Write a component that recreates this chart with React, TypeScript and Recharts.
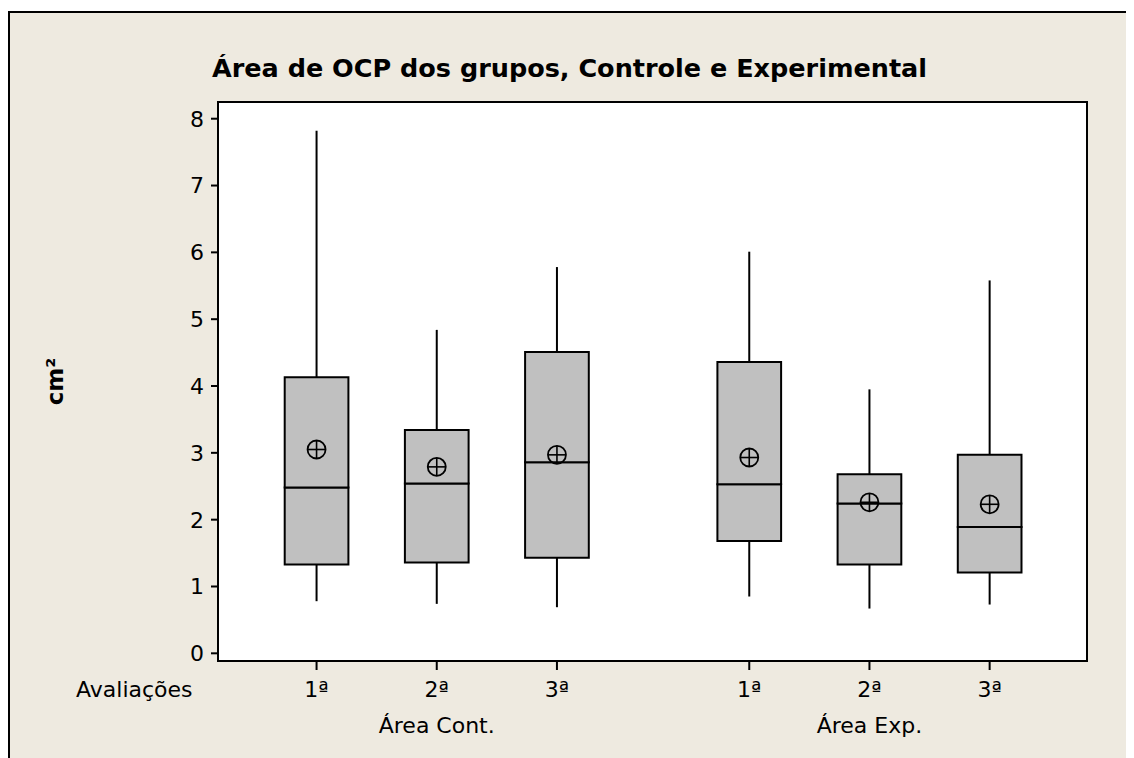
import {
  ComposedChart,
  XAxis,
  YAxis,
  Scatter,
  ReferenceArea,
  ReferenceLine,
} from 'recharts';

// evaluation labels and group names
const evalLabels = ['1ª', '2ª', '3ª', '1ª', '2ª', '3ª'];
const groupNames = ['Área Cont.', 'Área Exp.'];
const groupOf = [0, 0, 0, 1, 1, 1];

// box plot stats (cm²)
const whiskerLow = [0.78, 0.74, 0.69, 0.85, 0.67, 0.73];
const q1 = [1.33, 1.36, 1.43, 1.68, 1.33, 1.21];
const median = [2.48, 2.54, 2.86, 2.53, 2.24, 1.89];
const q3 = [4.13, 3.34, 4.51, 4.36, 2.68, 2.97];
const whiskerHigh = [7.82, 4.84, 5.78, 6.01, 3.95, 5.58];
const means = [3.05, 2.79, 2.97, 2.93, 2.26, 2.23];

const yTicks = [0, 1, 2, 3, 4, 5, 6, 7, 8];

const GROUP_GAP = 0.6;
const HALF_BOX = 0.265;
const X_DOMAIN = [0.18, 7.41];
const Y_DOMAIN = [-0.115, 8.25];
const FONT = '"DejaVu Sans", Verdana, sans-serif';
const BG = '#EEEAE0';
const FS = 22;

const positions = evalLabels.map((_, i) => i + 1 + groupOf[i] * GROUP_GAP);

const meanData = positions.map((x, i) => ({ x, y: means[i] }));

const MeanMarker = (props: any) => {
  const { cx, cy } = props;
  const r = 9;
  return (
    <g>
      <circle cx={cx} cy={cy} r={r} fill="none" stroke="#000" strokeWidth={1.8} />
      <line x1={cx - r} x2={cx + r} y1={cy} y2={cy} stroke="#000" strokeWidth={1.6} />
      <line x1={cx} x2={cx} y1={cy - r} y2={cy + r} stroke="#000" strokeWidth={1.6} />
    </g>
  );
};

const Label = ({ x, y, anchor = 'middle', children, ...rest }: any) => (
  <text
    x={x}
    y={y}
    textAnchor={anchor}
    fontFamily={FONT}
    fontSize={FS}
    fill="#000"
    {...rest}
  >
    {children}
  </text>
);

const XTick = (props: any) => {
  const { x, y, payload } = props;
  const i = positions.findIndex((p) => Math.abs(p - payload.value) < 1e-6);
  if (i < 0) return null;
  return (
    <g>
      <Label x={x} y={y + 25}>
        {evalLabels[i]}
      </Label>
      {i === 0 && (
        <Label x={x - 124} y={y + 25} anchor="end">
          Avaliações
        </Label>
      )}
      {(i === 1 || i === 4) && (
        <Label x={x} y={y + 61}>
          {groupNames[groupOf[i]]}
        </Label>
      )}
    </g>
  );
};

const YTick = (props: any) => {
  const { x, y, payload } = props;
  return (
    <Label x={x} y={y} anchor="end" dy="0.36em">
      {payload.value}
    </Label>
  );
};

const YLabel = (props: any) => {
  const vb = props.viewBox || {};
  const x = vb.x - 103;
  const y = vb.y + vb.height / 2;
  return (
    <text
      x={x}
      y={y}
      transform={`rotate(-90, ${x}, ${y})`}
      textAnchor="middle"
      dominantBaseline="central"
      fontFamily={FONT}
      fontWeight="bold"
      fontSize={23}
      fill="#000"
    >
      cm²
    </text>
  );
};

export default function App() {
  return (
    <div
      style={{
        position: 'relative',
        marginTop: 3,
        width: 1117,
        height: 760,
        background: BG,
        borderTop: '2px solid #000',
        borderLeft: '2px solid #000',
        borderRight: '2px solid #000',
      }}
    >
      <div
        style={{
          position: 'absolute',
          left: 202,
          top: 42,
          fontFamily: FONT,
          fontWeight: 'bold',
          fontSize: 25.5,
          lineHeight: '26px',
          whiteSpace: 'nowrap',
          color: '#000',
        }}
      >
        Área de OCP dos grupos, Controle e Experimental
      </div>
      <ComposedChart
        width={1116}
        height={745}
        margin={{ top: 89, right: 39, bottom: 17, left: 148 }}
      >
        <XAxis
          type="number"
          dataKey="x"
          domain={X_DOMAIN}
          ticks={positions}
          allowDataOverflow
          height={80}
          tick={<XTick />}
          tickSize={9}
          axisLine={{ stroke: '#000', strokeWidth: 2 }}
          tickLine={{ stroke: '#000', strokeWidth: 2 }}
        />
        <YAxis
          type="number"
          dataKey="y"
          domain={Y_DOMAIN}
          ticks={yTicks}
          allowDataOverflow
          width={60}
          tickSize={7}
          tickMargin={7}
          tick={<YTick />}
          axisLine={{ stroke: '#000', strokeWidth: 2 }}
          tickLine={{ stroke: '#000', strokeWidth: 2 }}
          label={<YLabel />}
        />

        {/* white plot panel with its frame */}
        <ReferenceArea
          x1={X_DOMAIN[0]}
          x2={X_DOMAIN[1]}
          y1={Y_DOMAIN[0]}
          y2={Y_DOMAIN[1]}
          fill="#fff"
          fillOpacity={1}
          stroke="#000"
          strokeWidth={2}
        />

        {positions.map((x, i) => (
          <ReferenceLine
            key={`wh-${i}`}
            segment={[
              { x, y: q3[i] },
              { x, y: whiskerHigh[i] },
            ]}
            stroke="#000"
            strokeWidth={2}
          />
        ))}
        {positions.map((x, i) => (
          <ReferenceLine
            key={`wl-${i}`}
            segment={[
              { x, y: whiskerLow[i] },
              { x, y: q1[i] },
            ]}
            stroke="#000"
            strokeWidth={2}
          />
        ))}
        {positions.map((x, i) => (
          <ReferenceArea
            key={`lo-${i}`}
            x1={x - HALF_BOX}
            x2={x + HALF_BOX}
            y1={q1[i]}
            y2={median[i]}
            fill="#C0C0C0"
            fillOpacity={1}
            stroke="#000"
            strokeWidth={2}
          />
        ))}
        {positions.map((x, i) => (
          <ReferenceArea
            key={`hi-${i}`}
            x1={x - HALF_BOX}
            x2={x + HALF_BOX}
            y1={median[i]}
            y2={q3[i]}
            fill="#C0C0C0"
            fillOpacity={1}
            stroke="#000"
            strokeWidth={2}
          />
        ))}

        <Scatter data={meanData} shape={<MeanMarker />} isAnimationActive={false} />
      </ComposedChart>
    </div>
  );
}
